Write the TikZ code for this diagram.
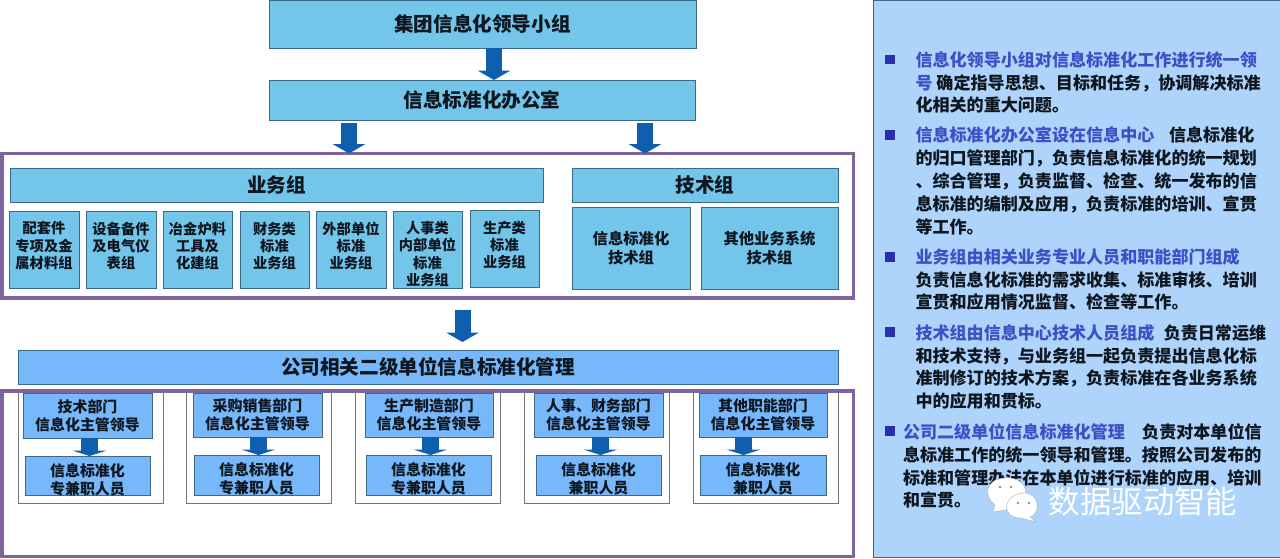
\documentclass[tikz,border=0pt]{standalone}
\usepackage{xcolor}
\usepackage{fontspec}
\setmainfont{Noto Sans CJK SC}
\usepackage{pgf,tikz}
\usetikzlibrary{arrows.meta}

\definecolor{skybox}{HTML}{74C5EA}
\definecolor{unitbox}{HTML}{76B8FA}
\definecolor{panelbox}{HTML}{AED4FB}
\definecolor{edgeline}{HTML}{3A6A88}
\definecolor{frameline}{HTML}{7F659F}
\definecolor{arrowblue}{HTML}{0F5FAE}
\definecolor{leadblue}{HTML}{3F4FC4}
\definecolor{bulletblue}{HTML}{2A2FB0}
\definecolor{inktext}{HTML}{0E1620}

\tikzset{
	sz/.style 2 args={minimum width=#1*0.75pt,minimum height=#2*0.75pt},
	box/.style={draw=edgeline,line width=0.45pt,inner sep=0pt,outer sep=0pt,align=center,text=inktext,anchor=north west},
	bigbox/.style={box,fill=skybox,font=\fontsize{14.7}{18}\bfseries\selectfont},
	subbox/.style={box,fill=skybox,font=\fontsize{10.7}{12.8}\bfseries\selectfont},
	techbox/.style={box,fill=skybox,font=\fontsize{11.5}{14}\bfseries\selectfont},
	unithead/.style={box,fill=unitbox,font=\fontsize{14.7}{18}\bfseries\selectfont},
	unitbig/.style={box,fill=unitbox,font=\fontsize{11.2}{13.5}\bfseries\selectfont},
	holder/.style={draw=black!55,line width=0.5pt,fill=white,inner sep=0pt,outer sep=0pt,anchor=north west},
	frame/.style={draw=frameline,line width=2.6pt,inner sep=0pt,outer sep=0pt,anchor=north west},
	bigarrow/.style={draw=arrowblue,line width=12pt,-{Triangle[width=24pt,length=7pt,fill=arrowblue]}},
	smallarrow/.style={draw=arrowblue,line width=12.5pt,-{Triangle[width=25pt,length=4pt,fill=arrowblue]}},
	bullet/.style={fill=bulletblue,inner sep=0pt,outer sep=0pt,minimum size=7.2pt},
	para/.style={anchor=north west,inner sep=0pt,outer sep=0pt,align=left,text=inktext,font=\fontsize{12.8}{17.1}\bfseries\selectfont},
}
\newcommand{\leadtext}[1]{\textcolor{leadblue}{#1}}

\begin{document}
\begin{tikzpicture}[x=0.75pt,y=0.75pt,yscale=-1,xscale=1]
	\useasboundingbox (0,0) rectangle (1280,559);
	
	% Top of the chart
	\draw (269,0) node [bigbox,sz={427}{48}] (group) {集团信息化领导小组};
	\draw (269,80) node [bigbox,sz={426}{40}] (office) {信息标准化办公室};
	
	% Frame around the working groups
	\draw (2,153.5) node [frame,sz={851.5}{144.5}] (groupframe) {};
	\draw (10,168) node [bigbox,sz={533}{34}] (business) {业务组};
	\draw (572,168) node [bigbox,sz={266}{34}] (tech) {技术组};
	
	% Business groups
	\draw (9,211) node [subbox,sz={70}{77}] (bone) {配套件\\专项及金\\属材料组\\[-6pt]~};
	\draw (86,211) node [subbox,sz={70}{77}] (btwo) {设备备件\\及电气仪\\表组\\[-6pt]~};
	\draw (163,211) node [subbox,sz={69}{77}] (bthree) {冶金炉料\\工具及\\化建组\\[-6pt]~};
	\draw (240,211) node [subbox,sz={69}{77}] (bfour) {财务类\\标准\\业务组\\[-6pt]~};
	\draw (316,211) node [subbox,sz={70}{77}] (bfive) {外部单位\\标准\\业务组\\[-6pt]~};
	\draw (393,211) node [subbox,sz={69}{77}] (bsix) {\rule{0pt}{16pt}人事类\\内部单位\\标准\\业务组};
	\draw (470,210) node [subbox,sz={69}{77}] (bseven) {生产类\\标准\\业务组\\[-6pt]~};
	
	% Technical groups
	\draw (572,207) node [techbox,sz={118}{82}] (tone) {信息标准化\\技术组};
	\draw (701,207) node [techbox,sz={137}{82}] (ttwo) {其他业务系统\\技术组};
	
	% Second level units
	\draw (18,350) node [unithead,sz={820}{34}] (units) {公司相关二级单位信息标准化管理};
	\draw (18,390) node [holder,sz={145}{113}] (hone) {};
	\draw (186,390) node [holder,sz={145}{113}] (htwo) {};
	\draw (355,390) node [holder,sz={145}{113}] (hthree) {};
	\draw (524,390) node [holder,sz={145}{113}] (hfour) {};
	\draw (693,390) node [holder,sz={145}{113}] (hfive) {};
	\draw (2,391) node [frame,sz={851.5}{165.5}] (unitframe) {};
	
	\draw (23,393) node [unitbig,sz={129}{45}] (mone) {技术部门\\信息化主管领导};
	\draw (193,393) node [unitbig,sz={129}{44}] (mtwo) {采购销售部门\\信息化主管领导};
	\draw (365,393) node [unitbig,sz={128}{44}] (mthree) {生产制造部门\\信息化主管领导};
	\draw (534,393) node [unitbig,sz={129}{44}] (mfour) {人事、财务部门\\信息化主管领导};
	\draw (699,393) node [unitbig,sz={128}{44}] (mfive) {其他职能部门\\信息化主管领导};
	
	\draw (25,456) node [unitbig,sz={125}{39}] (sone) {\rule{0pt}{15pt}信息标准化\\专兼职人员};
	\draw (194,455) node [unitbig,sz={125}{40}] (stwo) {\rule{0pt}{15pt}信息标准化\\专兼职人员};
	\draw (366,455) node [unitbig,sz={125}{40}] (sthree) {\rule{0pt}{15pt}信息标准化\\专兼职人员};
	\draw (536,455) node [unitbig,sz={125}{40}] (sfour) {\rule{0pt}{15pt}信息标准化\\兼职人员};
	\draw (700,455) node [unitbig,sz={126}{40}] (sfive) {\rule{0pt}{15pt}信息标准化\\兼职人员};
	
	% Arrow columns
	\coordinate (aone) at (494,0);
	\coordinate (atwo) at (349,0);
	\coordinate (athree) at (645,0);
	\coordinate (afour) at (462.5,0);
	\coordinate (cone) at (89.5,0);
	\coordinate (ctwo) at (258.5,0);
	\coordinate (cthree) at (430.5,0);
	\coordinate (cfour) at (600.5,0);
	\coordinate (cfive) at (743.5,0);
	
	% Block arrows
	\draw [bigarrow] (aone |- group.south) -- (aone |- office.north);
	\draw [bigarrow,shorten <=2.2pt] (atwo |- office.south) -- (atwo |- groupframe.north);
	\draw [bigarrow,shorten <=2.2pt] (athree |- office.south) -- (athree |- groupframe.north);
	\draw [bigarrow,shorten <=9pt,shorten >=6pt] (afour |- groupframe.south) -- (afour |- units.north);
	\draw [smallarrow] (cone |- mone.south) -- (cone |- sone.north);
	\draw [smallarrow] (ctwo |- mtwo.south) -- (ctwo |- stwo.north);
	\draw [smallarrow] (cthree |- mthree.south) -- (cthree |- sthree.north);
	\draw [smallarrow] (cfour |- mfour.south) -- (cfour |- sfour.north);
	\draw [smallarrow] (cfive |- mfive.south) -- (cfive |- sfive.north);
	
	% Right panel
	\draw (873,0) node [draw=edgeline,line width=0.6pt,fill=panelbox,inner sep=0pt,outer sep=0pt,anchor=north west,sz={410}{557}] (panel) {};
	\draw (890,59.5) node [bullet] (bulone) {};
	\draw (890,135) node [bullet] (bultwo) {};
	\draw (890,257) node [bullet] (bulthree) {};
	\draw (890,332) node [bullet] (bulfour) {};
	\draw (890,431) node [bullet] (bulfive) {};
	\draw (915.5,51.5) node [para] (paraone) {\leadtext{信息化领导小组对信息标准化工作进行统一领}\\\leadtext{号} 确定指导思想、目标和任务，协调解决标准\\化相关的重大问题。};
	\draw (915.5,127) node [para] (paratwo) {\leadtext{信息标准化办公室设在信息中心}\hspace{11pt}信息标准化\\的归口管理部门，负责信息标准化的统一规划\\、综合管理，负责监督、检查、统一发布的信\\息标准的编制及应用，负责标准的培训、宣贯\\等工作。};
	\draw (915.5,248.5) node [para] (parathree) {\leadtext{业务组由相关业务专业人员和职能部门组成}\\负责信息化标准的需求收集、标准审核、培训\\宣贯和应用情况监督、检查等工作。};
	\draw (915.5,324.5) node [para] (parafour) {\leadtext{技术组由信息中心技术人员组成}\hspace{7pt}负责日常运维\\和技术支持，与业务组一起负责提出信息化标\\准制修订的技术方案，负责标准在各业务系统\\中的应用和贯标。};
	\draw (903,423.5) node [para] (parafive) {\leadtext{公司二级单位信息标准化管理}\hspace{13pt}负责对本单位信\\息标准工作的统一领导和管理。按照公司发布的\\标准和管理办法在本单位进行标准的应用、培训\\和宣贯。};
	
	% Watermark
	\draw [fill=white,draw=black!30,line width=0.3pt] (995,505) .. controls (983,496) and (985,479) .. (1005,478) .. controls (1020,477) and (1028,486) .. (1025,497) -- (1005,510) -- (993,512) -- cycle;
	\draw [fill=white,draw=black!30,line width=0.3pt] (1024,493) .. controls (1040,493) and (1041,514) .. (1030,517) -- (1036,522) -- (1022,518) .. controls (1000,519) and (1002,494) .. (1024,493) -- cycle;
	\fill [black!45] (1000,487) circle (1.4) (1011,487) circle (1.4) (1018,503) circle (1.4) (1029,503) circle (1.4);
	\draw (1143,502) node [inner sep=0pt,text=white,font=\fontsize{23.6}{28}\selectfont] (mark) {数据驱动智能};
\end{tikzpicture}
\end{document}
